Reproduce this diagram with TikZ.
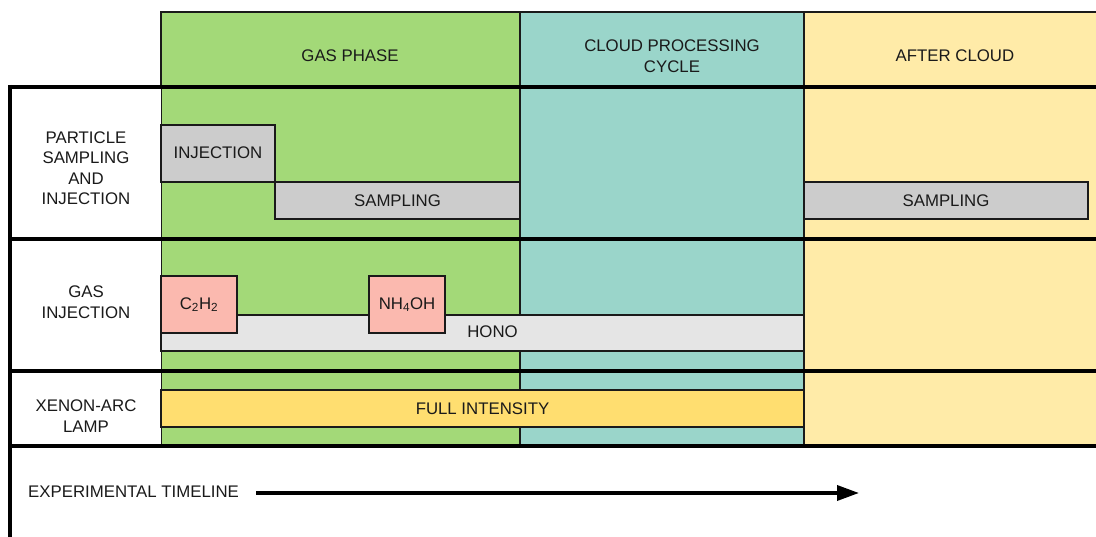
\documentclass[tikz,border=0pt]{standalone}
\usepackage{fontspec}
\setmainfont{Liberation Sans}
\usetikzlibrary{arrows.meta}
\definecolor{gasgreen}{HTML}{A3D978}
\definecolor{cloudteal}{HTML}{9AD5CA}
\definecolor{afteryellow}{HTML}{FFEBA8}
\definecolor{greybox}{HTML}{CCCCCC}
\definecolor{lightgrey}{HTML}{E5E5E5}
\definecolor{pinkbox}{HTML}{FBB9AF}
\definecolor{lampyellow}{HTML}{FFDE70}
\definecolor{ink}{HTML}{1A1A1A}
\tikzset{
  thin line/.style={draw=ink, line width=1.6pt},
  thick line/.style={draw=black, line width=4pt},
  col/.style={thin line},
  barbox/.style={thin line, inner sep=0pt, outer sep=0pt, anchor=north west, text=ink, font=\fontsize{16.8}{20.5}\selectfont},
  label/.style={text=ink, align=center, font=\fontsize{16.8}{20.5}\selectfont, inner sep=0pt},
}
\begin{document}
\begin{tikzpicture}[x=1pt,y=-1pt]
\useasboundingbox (0,0) rectangle (1096,537);
% columns
\path[col, fill=gasgreen] (161,12) rectangle (520,446);
\path[col, fill=cloudteal] (520,12) rectangle (804,446);
\path[col, fill=afteryellow] (804,12) rectangle (1100,446);
% left white cells
\path[fill=white] (10,87) rectangle (161,446);
% header labels
\node[label] (gp) at (350,56) {GAS PHASE};
\node[label] (cp) at (672,56) {CLOUD PROCESSING\\CYCLE};
\node[label] (ac) at (955,56) {AFTER CLOUD};
% row labels
\node[label] (r1) at (86,168) {PARTICLE\\SAMPLING\\AND\\INJECTION};
\node[label] (r2) at (86,302) {GAS\\INJECTION};
\node[label] (r3) at (86,416) {XENON-ARC\\LAMP};
% row 1
\node[barbox, fill=greybox, minimum width=245pt, minimum height=37pt] (samp1) at (275,182) {SAMPLING};
\node[barbox, fill=greybox, minimum width=114pt, minimum height=57pt] (inj) at (161,125) {\raisebox{2pt}{INJECTION}};
\node[barbox, fill=greybox, minimum width=284pt, minimum height=37pt] (samp2) at (804,182) {SAMPLING};
% row 2
\node[barbox, fill=lightgrey, minimum width=643pt, minimum height=36pt] (hono) at (161,315) {\hspace*{20pt}\raisebox{2pt}{HONO}};
\node[barbox, fill=pinkbox, minimum width=76pt, minimum height=57pt] (c2h2) at (161,276) {C\textsubscript{2}H\textsubscript{2}};
\node[barbox, fill=pinkbox, minimum width=76pt, minimum height=57pt] (nh4oh) at (369,276) {\raisebox{2pt}{NH\textsubscript{4}OH}};
% row 3
\node[barbox, fill=lampyellow, minimum width=643pt, minimum height=37pt] (lamp) at (161,390) {FULL INTENSITY};
% thick lines
\draw[thick line] (8,87) -- (1100,87);
\draw[thick line] (8,239) -- (1100,239);
\draw[thick line] (8,371) -- (1100,371);
\draw[thick line] (8,446) -- (1100,446);
\draw[thick line] (10,85) -- (10,540);
% timeline
\node[label, anchor=west] (tl) at (28,492) {EXPERIMENTAL TIMELINE};
\coordinate (tlend) at (859,493);
\draw[black, line width=3.5pt, -{Triangle[length=22pt,width=15pt]}] (256,493) -- (tlend);
\end{tikzpicture}
\end{document}
